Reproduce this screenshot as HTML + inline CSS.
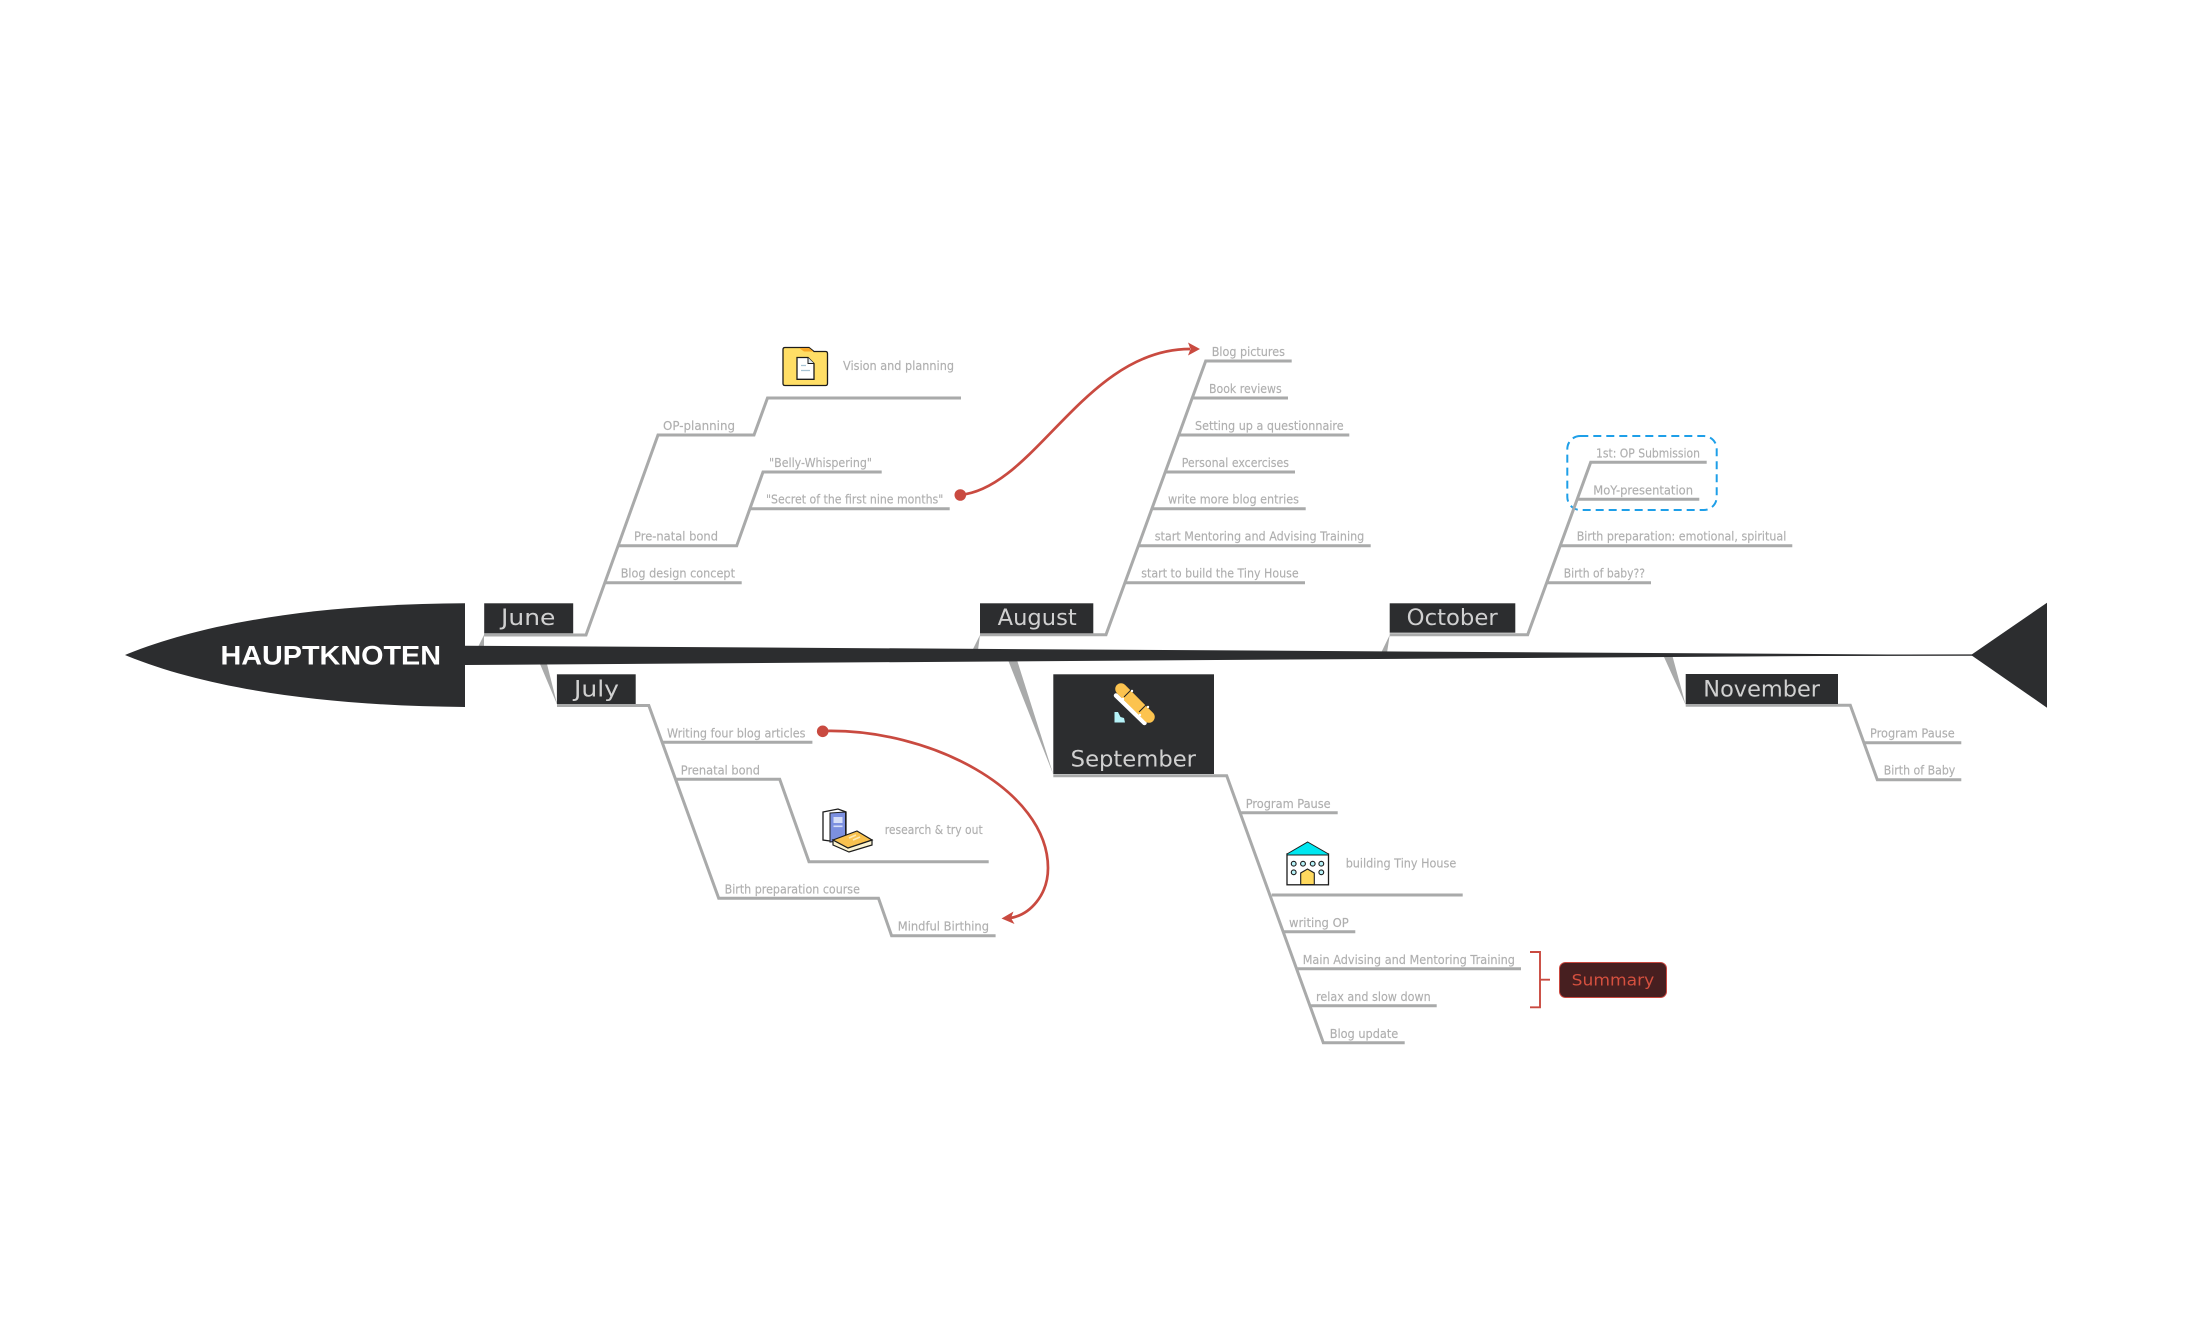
<!DOCTYPE html>
<html>
<head>
<meta charset="utf-8">
<title>HAUPTKNOTEN</title>
<style>
html,body{margin:0;padding:0;background:#fff;width:2190px;height:1323px;overflow:hidden}
svg{display:block}
text{font-family:"DejaVu Sans","Liberation Sans",sans-serif}
.i{font-size:12px;fill:#afafaf;stroke:#afafaf;stroke-width:.15px}
.m{font-size:22px;fill:#d0d0d0}
.l{fill:none;stroke:#a9aaaa;stroke-width:3;stroke-linejoin:miter}
.d{fill:#2c2d2f}
.w{fill:#a9aaaa}
</style>
</head>
<body>
<svg width="2190" height="1323" viewBox="0 0 2190 1323" xmlns="http://www.w3.org/2000/svg">
<rect width="2190" height="1323" fill="#fff"/>

<!-- wedges -->
<polygon class="w" points="484,635 478,647 484,647"/>
<polygon class="w" points="540,664 547,664 557.3,705"/>
<polygon class="w" points="980,635 972.5,650 978,650"/>
<polygon class="w" points="1008,660 1017,660 1053.5,775"/>
<polygon class="w" points="1389.7,635 1381,653 1387,653"/>
<polygon class="w" points="1664,657 1672.7,657 1685.7,705"/>

<!-- spine and head -->
<polygon class="d" points="465,645.7 465,665 1975,655"/>
<line x1="1780" y1="655.3" x2="1975" y2="655.1" stroke="#2c2d2f" stroke-width="1.4"/>
<path class="d" d="M125 655 C210 620 330 604 465 603.3 L465 707 C330 706 210 690 125 655 Z"/>
<polygon class="d" points="1971,655 2047,602.7 2047,707.7"/>
<text x="220.5" y="664.3" font-size="27" font-weight="700" fill="#fff" textLength="220.5" lengthAdjust="spacingAndGlyphs" style="font-family:'Liberation Sans',sans-serif">HAUPTKNOTEN</text>

<!-- June -->
<polyline class="l" points="484,635 586,635 658,435 754,435 767.5,398 961,398"/>
<polyline class="l" points="618,545.7 736.7,545.7 763,472 881.7,472"/>
<polyline class="l" points="750.7,508.7 949.7,508.7"/>
<polyline class="l" points="605,582.7 741.7,582.7"/>
<rect class="d" x="484.2" y="603.3" width="89" height="30"/>
<text class="m" x="501" y="625" textLength="54.4" lengthAdjust="spacingAndGlyphs">June</text>
<text class="i" x="843" y="370" textLength="111" lengthAdjust="spacingAndGlyphs">Vision and planning</text>
<text class="i" x="663" y="430" textLength="72" lengthAdjust="spacingAndGlyphs">OP-planning</text>
<text class="i" x="769" y="467" textLength="103" lengthAdjust="spacingAndGlyphs">"Belly-Whispering"</text>
<text class="i" x="766" y="503.5" textLength="177.3" lengthAdjust="spacingAndGlyphs">"Secret of the first nine months"</text>
<text class="i" x="634" y="540.5" textLength="84" lengthAdjust="spacingAndGlyphs">Pre-natal bond</text>
<text class="i" x="620.7" y="577.5" textLength="114.3" lengthAdjust="spacingAndGlyphs">Blog design concept</text>

<!-- folder icon -->
<path d="M785 347.5 H809 L814 351.5 H825.5 Q827.5 351.5 827.5 353.5 V383.5 Q827.5 385.5 825.5 385.5 H785 Q783 385.5 783 383.5 V349.5 Q783 347.5 785 347.5 Z" fill="#ffde66" stroke="#1c1c1c" stroke-width="1.3"/>
<path d="M799 348 H809 L813.5 351.5 H804 Z" fill="#f9a825"/>
<path d="M797 357.5 H808 L814 363.5 V379.3 H797 Z" fill="#fff" stroke="#1c1c1c" stroke-width="1.3"/>
<path d="M808 357.5 V363.5 H814" fill="#dfe9ef" stroke="#1c1c1c" stroke-width="1"/>
<path d="M801 365.5 H806 M801 370.5 H810" stroke="#a8c4d4" stroke-width="1.2"/>

<!-- July -->
<polyline class="l" points="557,705.5 648.8,705.5 718.7,898.3 878.5,898.3 891.6,935.7 995.6,935.7"/>
<polyline class="l" points="662.6,742.3 812.4,742.3"/>
<polyline class="l" points="676.3,779.3 779.7,779.3 809,861.7 988.7,861.7"/>
<rect class="d" x="556.9" y="674.3" width="78.8" height="29.7"/>
<text class="m" x="574" y="696.7" textLength="45" lengthAdjust="spacingAndGlyphs">July</text>
<text class="i" x="667" y="737.3" textLength="138.5" lengthAdjust="spacingAndGlyphs">Writing four blog articles</text>
<text class="i" x="680.8" y="774.3" textLength="79.2" lengthAdjust="spacingAndGlyphs">Prenatal bond</text>
<text class="i" x="884.7" y="834" textLength="98" lengthAdjust="spacingAndGlyphs">research &amp; try out</text>
<text class="i" x="724.6" y="893.3" textLength="135.3" lengthAdjust="spacingAndGlyphs">Birth preparation course</text>
<text class="i" x="897.8" y="930.3" textLength="91.2" lengthAdjust="spacingAndGlyphs">Mindful Birthing</text>

<!-- books icon -->
<path d="M823 812 L838 809 L846 812 V840 L830 841 L823 840 Z" fill="#fff" stroke="#1c1c1c" stroke-width="1.3"/>
<path d="M830 813 L845.5 812 V840 L830 842 Z" fill="#7c90e0" stroke="#1c1c1c" stroke-width="1"/>
<rect x="833.5" y="817" width="9" height="6" fill="#d6def8"/>
<rect x="833.5" y="825.5" width="9" height="1.6" fill="#d6def8"/>
<path d="M833 840 V845 L849 852 L872 845 V840 L848 848 Z" fill="#fbf3d0" stroke="#1c1c1c" stroke-width="1.2"/>
<path d="M833 840 L857 831 L872 840 L848 848 Z" fill="#f9c24e" stroke="#1c1c1c" stroke-width="1.2"/>
<path d="M849 838 L856 835 M853 840 L860 837" stroke="#fde9b4" stroke-width="1.6"/>

<!-- August -->
<polyline class="l" points="980,634.7 1106,634.7 1205.7,361 1291.7,361"/>
<polyline class="l" points="1192.7,398 1288,398"/>
<polyline class="l" points="1179.7,435 1349.3,435"/>
<polyline class="l" points="1166,472 1295,472"/>
<polyline class="l" points="1152.7,508.7 1305.7,508.7"/>
<polyline class="l" points="1139,545.7 1370.7,545.7"/>
<polyline class="l" points="1125.7,582.7 1305,582.7"/>
<rect class="d" x="980" y="603.3" width="113.3" height="30"/>
<text class="m" x="997.7" y="625" textLength="79" lengthAdjust="spacingAndGlyphs">August</text>
<text class="i" x="1211.7" y="356" textLength="73.3" lengthAdjust="spacingAndGlyphs">Blog pictures</text>
<text class="i" x="1209" y="393" textLength="72.7" lengthAdjust="spacingAndGlyphs">Book reviews</text>
<text class="i" x="1195" y="430" textLength="148.7" lengthAdjust="spacingAndGlyphs">Setting up a questionnaire</text>
<text class="i" x="1181.7" y="467" textLength="107.3" lengthAdjust="spacingAndGlyphs">Personal excercises</text>
<text class="i" x="1168" y="503.5" textLength="131" lengthAdjust="spacingAndGlyphs">write more blog entries</text>
<text class="i" x="1154.7" y="540.5" textLength="209.6" lengthAdjust="spacingAndGlyphs">start Mentoring and Advising Training</text>
<text class="i" x="1141.3" y="577.5" textLength="157.4" lengthAdjust="spacingAndGlyphs">start to build the Tiny House</text>

<!-- September -->
<polyline class="l" points="1053.3,775.7 1226.7,775.7 1323.3,1042.7 1404.7,1042.7"/>
<polyline class="l" points="1240.7,812.7 1337.7,812.7"/>
<polyline class="l" points="1271.7,895 1462.7,895"/>
<polyline class="l" points="1284,931.7 1355.3,931.7"/>
<polyline class="l" points="1297.3,968.7 1521,968.7"/>
<polyline class="l" points="1310.7,1005.7 1436.7,1005.7"/>
<rect class="d" x="1053.3" y="674.3" width="160.7" height="99.7"/>
<text class="m" x="1070.7" y="766.7" textLength="125.3" lengthAdjust="spacingAndGlyphs">September</text>
<!-- skateboard icon -->
<line x1="1116" y1="695.5" x2="1144.5" y2="723" stroke="#fff" stroke-width="4.5" stroke-linecap="round"/>
<line x1="1121" y1="689" x2="1149" y2="717" stroke="#fcc34f" stroke-width="11.5" stroke-linecap="round"/>
<path d="M1124 697 L1131 690 M1139 712 L1146 705" stroke="#222" stroke-width="1"/>
<circle cx="1132" cy="691" r="1.2" fill="#fff"/><circle cx="1123" cy="699" r="1.2" fill="#fff"/>
<circle cx="1148" cy="707" r="1.2" fill="#fff"/><circle cx="1140" cy="715" r="1.2" fill="#fff"/>
<polygon points="1114.5,712 1118,712 1120.5,717 1124,718 1125,722.5 1114.5,722.5" fill="#b6f2f8"/>
<text class="i" x="1245.7" y="808" textLength="85" lengthAdjust="spacingAndGlyphs">Program Pause</text>
<text class="i" x="1345.7" y="867.3" textLength="110.6" lengthAdjust="spacingAndGlyphs">building Tiny House</text>
<text class="i" x="1289" y="927" textLength="59.7" lengthAdjust="spacingAndGlyphs">writing OP</text>
<text class="i" x="1302.7" y="964" textLength="212.3" lengthAdjust="spacingAndGlyphs">Main Advising and Mentoring Training</text>
<text class="i" x="1316" y="1001" textLength="114.7" lengthAdjust="spacingAndGlyphs">relax and slow down</text>
<text class="i" x="1329.7" y="1038" textLength="68.6" lengthAdjust="spacingAndGlyphs">Blog update</text>

<!-- house icon -->
<rect x="1287" y="854" width="41.5" height="30.8" fill="#fff" stroke="#1c1c1c" stroke-width="1.3"/>
<polygon points="1307.7,842 1328.5,854 1328.5,855 1287,855 1287,854" fill="#00e7f0" stroke="#1c1c1c" stroke-width="1"/>
<g fill="#b6f2f8" stroke="#1c1c1c" stroke-width="1.1">
<circle cx="1293.7" cy="863.7" r="2.4"/><circle cx="1303" cy="863.7" r="2.4"/><circle cx="1312.7" cy="863.7" r="2.4"/><circle cx="1321.3" cy="863.7" r="2.4"/>
<circle cx="1293.7" cy="872.3" r="2.4"/><circle cx="1321.3" cy="872.3" r="2.4"/>
</g>
<path d="M1300.7 884.5 V873 L1307.5 869 L1314.3 873 V884.5 Z" fill="#ffd95e" stroke="#1c1c1c" stroke-width="1.1"/>

<!-- Summary -->
<path d="M1530 952 H1540 V1007.3 H1530 M1540 979.7 H1550" fill="none" stroke="#c94a40" stroke-width="1.9"/>
<rect x="1559.5" y="962.5" width="107" height="35" rx="6" ry="6" fill="#471f20" stroke="#c9473f" stroke-width="1"/>
<text x="1571.7" y="985.5" font-size="16" fill="#d5503f" textLength="82.6" lengthAdjust="spacingAndGlyphs">Summary</text>

<!-- October -->
<rect x="1567.3" y="436" width="149.4" height="74" rx="13" ry="13" fill="none" stroke="#1e9fe8" stroke-width="2" stroke-dasharray="8 5"/>
<polyline class="l" points="1389.7,634.7 1527.7,634.7 1590.7,462.3 1706.7,462.3"/>
<polyline class="l" points="1577.3,499.3 1699.3,499.3"/>
<polyline class="l" points="1560.7,545.7 1792.3,545.7"/>
<polyline class="l" points="1547,582.7 1651,582.7"/>
<rect class="d" x="1389.7" y="603.3" width="125.6" height="29.4"/>
<text class="m" x="1406.7" y="625" textLength="91" lengthAdjust="spacingAndGlyphs">October</text>
<text class="i" x="1596" y="457.3" textLength="104" lengthAdjust="spacingAndGlyphs">1st: OP Submission</text>
<text class="i" x="1593.3" y="494.3" textLength="99.7" lengthAdjust="spacingAndGlyphs">MoY-presentation</text>
<text class="i" x="1576.7" y="540.7" textLength="209.6" lengthAdjust="spacingAndGlyphs">Birth preparation: emotional, spiritual</text>
<text class="i" x="1563.7" y="577.7" textLength="81.3" lengthAdjust="spacingAndGlyphs">Birth of baby??</text>

<!-- November -->
<polyline class="l" points="1685.7,705.3 1850.3,705.3 1877.3,779.7 1961.3,779.7"/>
<polyline class="l" points="1864,742.7 1961.3,742.7"/>
<rect class="d" x="1685.7" y="674" width="152.3" height="30"/>
<text class="m" x="1703.3" y="696.7" textLength="116.7" lengthAdjust="spacingAndGlyphs">November</text>
<text class="i" x="1870" y="737.7" textLength="84.7" lengthAdjust="spacingAndGlyphs">Program Pause</text>
<text class="i" x="1883.7" y="774.7" textLength="71.6" lengthAdjust="spacingAndGlyphs">Birth of Baby</text>

<!-- red relationships -->
<path d="M960 495 C1035 488 1085 349 1190 349" fill="none" stroke="#c94a40" stroke-width="2.7"/>
<circle cx="960.3" cy="495" r="5.8" fill="#c94a40"/>
<polygon points="1200,349 1188,342.5 1190.5,349 1188,355.5" fill="#c94a40"/>
<path d="M823 731 C930 728 1048 790 1048 868 C1048 895 1030 915 1010 918" fill="none" stroke="#c94a40" stroke-width="2.7"/>
<circle cx="822.7" cy="731.3" r="5.8" fill="#c94a40"/>
<polygon points="1001.5,918.5 1013.5,911.5 1011,918 1014.5,924" fill="#c94a40"/>
</svg>
</body>
</html>
